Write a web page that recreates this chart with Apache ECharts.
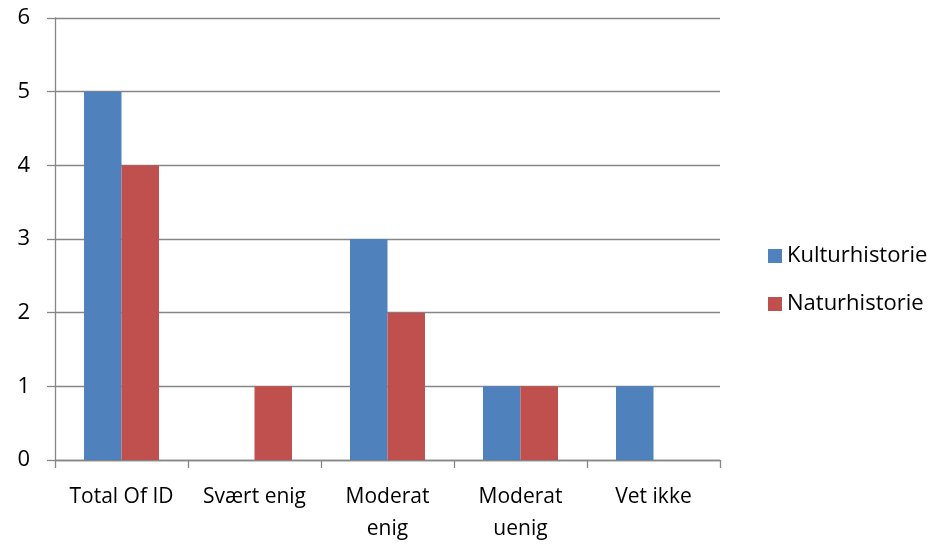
<!DOCTYPE html>
<html><head><meta charset="utf-8">
<script src="https://cdn.jsdelivr.net/npm/echarts@6/dist/echarts.min.js"></script>
<style>html,body{margin:0;padding:0;background:#fff}#c{width:949px;height:545px}</style>
</head><body><div id="c"></div>
<script>
const categories = ["Total Of ID", "Svært enig", "Moderat\nenig", "Moderat\nuenig", "Vet ikke"];
const kulturhistorie = [5, 0, 3, 1, 1];
const naturhistorie = [4, 1, 2, 1, 0];
const yTicks = {min: 0, max: 6, interval: 1};

const chart = echarts.init(document.getElementById('c'), null, {renderer: 'canvas'});
const font = "'Open Sans', 'Noto Sans', sans-serif";
chart.setOption({
  animation: false,
  textStyle: {fontFamily: font},
  grid: {left: 55, right: 229, top: 18, bottom: 79, containLabel: false},
  legend: {
    orient: 'vertical', left: 763, top: 240, itemWidth: 14, itemHeight: 14, itemGap: 26,
    icon: 'rect',
    textStyle: {fontSize: 22, color: '#000', fontFamily: font},
    data: ['Kulturhistorie', 'Naturhistorie']
  },
  xAxis: {
    type: 'category', data: categories,
    axisLine: {lineStyle: {color: '#868686', width: 1.3}},
    axisTick: {show: true, length: 8, alignWithLabel: false, lineStyle: {color: '#868686', width: 1.3}},
    axisLabel: {color: '#000', fontSize: 21, margin: 21, lineHeight: 32, fontFamily: font, interval: 0}
  },
  yAxis: {
    type: 'value', min: yTicks.min, max: yTicks.max, interval: yTicks.interval,
    axisLine: {show: true, lineStyle: {color: '#868686', width: 1.3}},
    axisTick: {show: true, length: 8, lineStyle: {color: '#868686', width: 1.3}},
    axisLabel: {color: '#000', fontSize: 22, margin: 25, fontFamily: font},
    splitLine: {lineStyle: {color: '#868686', width: 1.3}}
  },
  series: [
    {name: 'Kulturhistorie', type: 'bar', data: kulturhistorie, barWidth: '28.2%', barGap: '0%',
     itemStyle: {color: '#4F81BD'}},
    {name: 'Naturhistorie', type: 'bar', data: naturhistorie, barWidth: '28.2%', barGap: '0%',
     itemStyle: {color: '#C0504D'}}
  ]
});
</script></body></html>
